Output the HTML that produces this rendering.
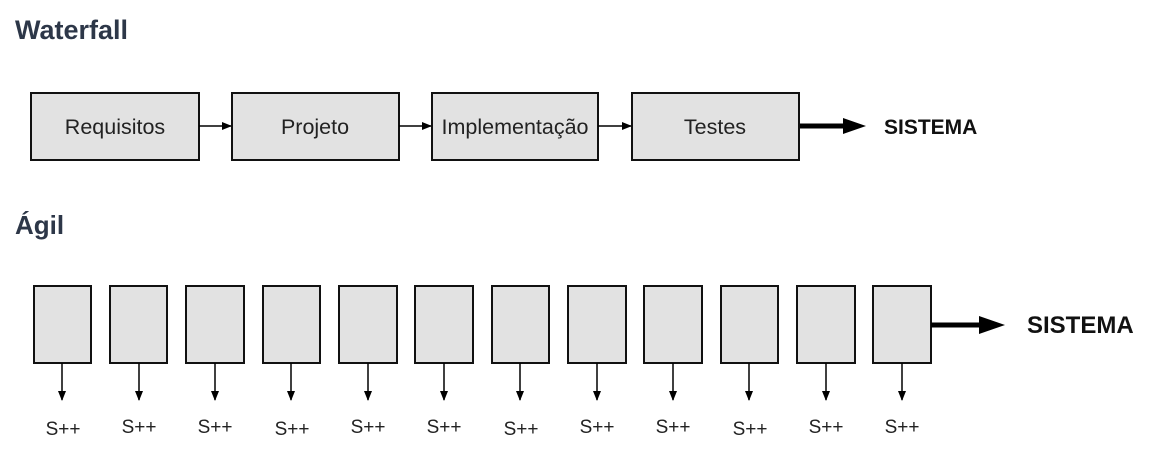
<!DOCTYPE html>
<html><head><meta charset="utf-8"><style>
html,body{margin:0;padding:0;background:#fff;width:1170px;height:472px;overflow:hidden}
</style></head><body>
<svg width="1170" height="472" viewBox="0 0 1170 472" xmlns="http://www.w3.org/2000/svg">
<defs>
<marker id="a" markerWidth="10" markerHeight="10" refX="9" refY="5" orient="auto" markerUnits="userSpaceOnUse"><path d="M0,1 L10,5 L0,9 Z" fill="#000"/></marker>
</defs>
<g font-family="Liberation Sans, sans-serif">
<text x="15" y="39" font-size="27" font-weight="bold" fill="#2d3748">Waterfall</text>
<text x="15" y="234" font-size="26" font-weight="bold" fill="#2d3748">Ágil</text>

<g fill="#e2e2e2" stroke="#111" stroke-width="2">
<rect x="31" y="93" width="168" height="67"/>
<rect x="232" y="93" width="167" height="67"/>
<rect x="432" y="93" width="166" height="67"/>
<rect x="632" y="93" width="167" height="67"/>
</g>
<g font-size="21.5" fill="#222" text-anchor="middle">
<text x="115" y="134">Requisitos</text>
<text x="315" y="134">Projeto</text>
<text x="515" y="134">Implementação</text>
<text x="715" y="134">Testes</text>
</g>
<g stroke="#000" stroke-width="1.5">
<line x1="199" y1="126" x2="231" y2="126" marker-end="url(#a)"/>
<line x1="399" y1="126" x2="431" y2="126" marker-end="url(#a)"/>
<line x1="598" y1="126" x2="631" y2="126" marker-end="url(#a)"/>
</g>
<line x1="800" y1="126" x2="845" y2="126" stroke="#000" stroke-width="5"/>
<path d="M843,118 L866,126 L843,134 Z" fill="#000"/>
<text x="884" y="134" font-size="21" font-weight="bold" fill="#111">SISTEMA</text>

<g fill="#e2e2e2" stroke="#111" stroke-width="2">
<rect x="34" y="286" width="57" height="77"/>
<rect x="110" y="286" width="57" height="77"/>
<rect x="186" y="286" width="58" height="77"/>
<rect x="263" y="286" width="57" height="77"/>
<rect x="339" y="286" width="58" height="77"/>
<rect x="415" y="286" width="58" height="77"/>
<rect x="492" y="286" width="57" height="77"/>
<rect x="568" y="286" width="58" height="77"/>
<rect x="644" y="286" width="58" height="77"/>
<rect x="721" y="286" width="57" height="77"/>
<rect x="797" y="286" width="58" height="77"/>
<rect x="873" y="286" width="58" height="77"/>
</g>
<g stroke="#000" stroke-width="1.5">
<line x1="62" y1="363" x2="62" y2="400" marker-end="url(#a)"/>
<line x1="139" y1="363" x2="139" y2="400" marker-end="url(#a)"/>
<line x1="215" y1="363" x2="215" y2="400" marker-end="url(#a)"/>
<line x1="291" y1="363" x2="291" y2="400" marker-end="url(#a)"/>
<line x1="368" y1="363" x2="368" y2="400" marker-end="url(#a)"/>
<line x1="444" y1="363" x2="444" y2="400" marker-end="url(#a)"/>
<line x1="520" y1="363" x2="520" y2="400" marker-end="url(#a)"/>
<line x1="597" y1="363" x2="597" y2="400" marker-end="url(#a)"/>
<line x1="673" y1="363" x2="673" y2="400" marker-end="url(#a)"/>
<line x1="749" y1="363" x2="749" y2="400" marker-end="url(#a)"/>
<line x1="826" y1="363" x2="826" y2="400" marker-end="url(#a)"/>
<line x1="902" y1="363" x2="902" y2="400" marker-end="url(#a)"/>
</g>
<g font-size="19" fill="#222" text-anchor="middle">
<text x="63" y="435">S++</text>
<text x="139" y="433">S++</text>
<text x="215" y="433">S++</text>
<text x="292" y="435">S++</text>
<text x="368" y="433">S++</text>
<text x="444" y="433">S++</text>
<text x="521" y="435">S++</text>
<text x="597" y="433">S++</text>
<text x="673" y="433">S++</text>
<text x="750" y="435">S++</text>
<text x="826" y="433">S++</text>
<text x="902" y="433">S++</text>
</g>
<line x1="931" y1="325" x2="982" y2="325" stroke="#000" stroke-width="5"/>
<path d="M979,316 L1005,325 L979,334 Z" fill="#000"/>
<text x="1027" y="333" font-size="24" font-weight="bold" fill="#111">SISTEMA</text>
</g>
</svg>
</body></html>
